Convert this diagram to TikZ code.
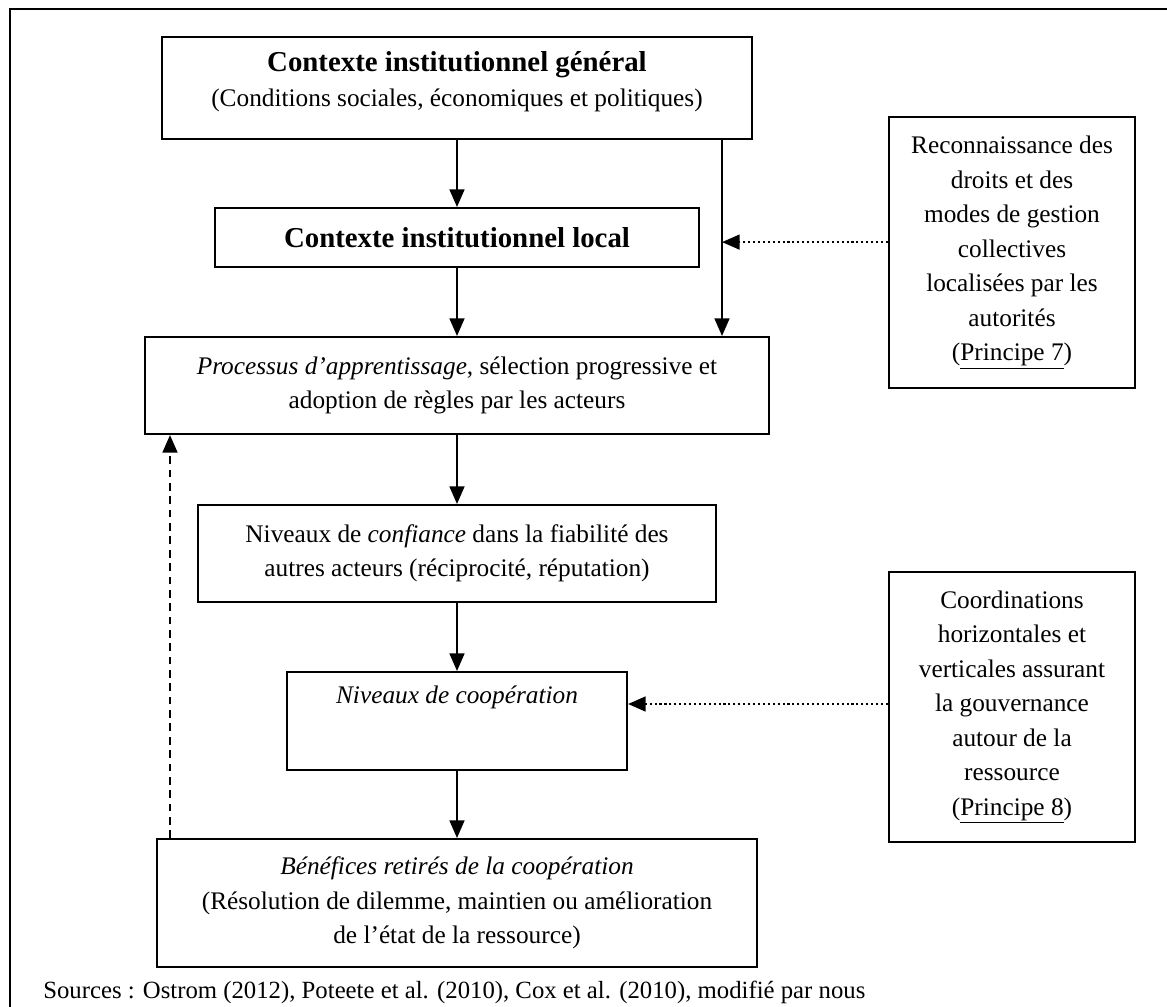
\documentclass[tikz,border=0pt]{standalone}
\usepackage{fontspec}
\setmainfont{Liberation Serif}
\usepackage{tikz}
\usetikzlibrary{arrows.meta,positioning}

\newcommand{\gras}[1]{{\fontsize{20.5}{24.5}\selectfont\textbf{#1}}}

\tikzset{
  boite/.style={draw, line width=1.4pt, align=center, inner sep=0pt,
    font=\fontsize{18}{24.5}\selectfont},
  fleche/.style={-{Triangle[length=12.5pt,width=10.5pt]}, line width=1.5pt},
  pointille/.style={fleche, dotted},
  tirets/.style={fleche, dash pattern=on 5.5pt off 4pt},
}

\begin{document}
\begin{tikzpicture}[x=0.025cm, y=0.025cm]
\useasboundingbox (0,0) rectangle (1167,-1007);
\draw[line width=2pt] (10,-1007) -- (10,-9) -- (1167,-9);

% nodes
\node[boite, minimum width=14.725cm, text height=1.725cm, text depth=0.825cm] (gen) at (457,-88)
  {\gras{Contexte institutionnel général}\\(Conditions sociales, économiques et politiques)};
\node[boite, below=1.675cm of gen, minimum width=12.075cm, minimum height=1.475cm] (loc)
  {\gras{Contexte institutionnel local}};
\node[boite, below=1.7cm of loc, minimum width=15.6cm, minimum height=2.425cm] (proc)
  {\textit{Processus d’apprentissage}, sélection progressive et\\adoption de règles par les acteurs};
\node[boite, below=1.725cm of proc, minimum width=12.95cm, minimum height=2.425cm] (conf)
  {Niveaux de \textit{confiance} dans la fiabilité des\\autres acteurs (réciprocité, réputation)};
\node[boite, below=1.7cm of conf, minimum width=8.5cm, text height=0.78cm, text depth=1.67cm] (coop)
  {\textit{Niveaux de coopération}};
\node[boite, below=1.675cm of coop, minimum width=15cm, minimum height=3.2cm] (bene)
  {\textit{Bénéfices retirés de la coopération}\\(Résolution de dilemme, maintien ou amélioration\\de l’état de la ressource)};

\node[boite, minimum width=6.15cm, minimum height=6.775cm] (p7) at (1012,-252.5)
  {Reconnaissance des\\droits et des\\modes de gestion\\collectives\\localisées par les\\autorités\\(\underline{Principe 7})};
\node[boite, minimum width=6.15cm, minimum height=6.75cm] (p8) at (1012,-707)
  {Coordinations\\horizontales et\\verticales assurant\\la gouvernance\\autour de la\\ressource\\(\underline{Principe 8})};

\node[anchor=west, inner sep=0pt, font=\fontsize{17.6}{20}\selectfont] (src) at (43,-992)
  {Sources : Ostrom (2012), Poteete et al. (2010), Cox et al. (2010), modifié par nous};

\coordinate (droite) at (722,0);
\coordinate (gauche) at (170,0);

% edges
\draw[fleche] (gen) -- (loc);
\draw[fleche] (loc) -- (proc);
\draw[fleche] (proc) -- (conf);
\draw[fleche] (conf) -- (coop);
\draw[fleche] (coop) -- (bene);
\draw[fleche] (gen.south -| droite) -- (proc.north -| droite);
\draw[pointille] ([yshift=0.26cm]p7.west) -- ([yshift=0.26cm]p7.west -| droite);
\draw[pointille] ([yshift=0.075cm]p8.west) -- ([yshift=0.075cm]p8.west -| coop.east);
\draw[tirets] (bene.north -| gauche) -- (proc.south -| gauche);
\end{tikzpicture}
\end{document}
